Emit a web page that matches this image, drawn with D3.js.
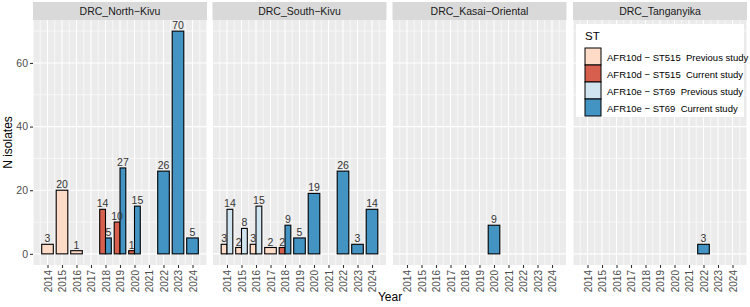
<!DOCTYPE html>
<html lang="en">
<head>
    <meta charset="UTF-8">
    <title>N isolates by year</title>
    <script src="https://cdn.jsdelivr.net/npm/d3@7"></script>
    <style>
        body { margin: 0; background: #fff; }
        text { font-family: "Liberation Sans", Arial, sans-serif; }
    </style>
</head>
<body>
<script>
    // data
    var years = [2014, 2015, 2016, 2017, 2018, 2019, 2020, 2021, 2022, 2023, 2024];
    var regions = ["DRC_North\u2212Kivu", "DRC_South\u2212Kivu", "DRC_Kasai\u2212Oriental", "DRC_Tanganyika"];
    var stLabels = [
        "AFR10d \u2212 ST515  Previous study",
        "AFR10d \u2212 ST515  Current study",
        "AFR10e \u2212 ST69  Previous study",
        "AFR10e \u2212 ST69  Current study"
    ];
    var stColors = ["#FDDBC7", "#D6604D", "#D1E5F0", "#4393C3"];
    var yTicks = [0, 20, 40, 60];

    // one row per ST group, one value per year (0 = no bar)
    var northKivu = [
        [3, 20, 1, 0, 0, 0, 0, 0, 0, 0, 0],
        [0, 0, 0, 0, 14, 10, 1, 0, 0, 0, 0],
        [0, 0, 0, 0, 0, 0, 0, 0, 0, 0, 0],
        [0, 0, 0, 0, 5, 27, 15, 0, 26, 70, 5]
    ];
    var southKivu = [
        [3, 2, 3, 2, 0, 0, 0, 0, 0, 0, 0],
        [0, 0, 0, 0, 2, 0, 0, 0, 0, 0, 0],
        [14, 8, 15, 0, 0, 0, 0, 0, 0, 0, 0],
        [0, 0, 0, 0, 9, 5, 19, 0, 26, 3, 14]
    ];
    var kasaiOriental = [
        [0, 0, 0, 0, 0, 0, 0, 0, 0, 0, 0],
        [0, 0, 0, 0, 0, 0, 0, 0, 0, 0, 0],
        [0, 0, 0, 0, 0, 0, 0, 0, 0, 0, 0],
        [0, 0, 0, 0, 0, 0, 9, 0, 0, 0, 0]
    ];
    var tanganyika = [
        [0, 0, 0, 0, 0, 0, 0, 0, 0, 0, 0],
        [0, 0, 0, 0, 0, 0, 0, 0, 0, 0, 0],
        [0, 0, 0, 0, 0, 0, 0, 0, 0, 0, 0],
        [0, 0, 0, 0, 0, 0, 0, 0, 3, 0, 0]
    ];
    var regionValues = [northKivu, southKivu, kasaiOriental, tanganyika];

    // canvas
    var width = 750;
    var height = 307;
    var svg = d3.select("body").append("svg")
        .attr("width", width)
        .attr("height", height);

    var panelLeft = [33, 212.5, 392.5, 573];
    var panelW = 174;
    var stripTop = 2, stripH = 18;
    var panelTop = 20, panelBottom = 265;

    var y = d3.scaleLinear().domain([-3.5, 73.5]).range([panelBottom, panelTop]);

    // turn the matrix into dodged bars
    function makeBars(values) {
        var bars = [];
        years.forEach(function (yr, i) {
            var present = [];
            values.forEach(function (row, g) {
                if (row[i] > 0) present.push(g);
            });
            var w = 0.8 / present.length;
            present.forEach(function (g, k) {
                bars.push({year: yr, group: g, n: values[g][i],
                    x0: yr - 0.4 + k * w, x1: yr - 0.4 + (k + 1) * w});
            });
        });
        return bars;
    }

    regions.forEach(function (name, p) {
        var x = d3.scaleLinear().domain([2013, 2025]).range([panelLeft[p], panelLeft[p] + panelW]);
        var g = svg.append("g");

        // strip
        g.append("rect")
            .attr("x", panelLeft[p]).attr("y", stripTop)
            .attr("width", panelW).attr("height", stripH)
            .attr("fill", "#D9D9D9");
        g.append("text")
            .attr("x", panelLeft[p] + panelW / 2).attr("y", stripTop + stripH / 2 + 4)
            .attr("text-anchor", "middle")
            .attr("font-size", 10.5)
            .attr("fill", "#1A1A1A")
            .text(name);

        // background + grid
        g.append("rect")
            .attr("x", panelLeft[p]).attr("y", panelTop)
            .attr("width", panelW).attr("height", panelBottom - panelTop)
            .attr("fill", "#EBEBEB");

        var minorX = d3.range(2013.5, 2025, 1);
        g.selectAll(".mx").data(minorX).enter().append("line")
            .attr("x1", function (d) { return x(d); }).attr("x2", function (d) { return x(d); })
            .attr("y1", panelTop).attr("y2", panelBottom)
            .attr("stroke", "#fff").attr("stroke-width", 0.6);
        g.selectAll(".my").data([10, 30, 50, 70]).enter().append("line")
            .attr("x1", panelLeft[p]).attr("x2", panelLeft[p] + panelW)
            .attr("y1", function (d) { return y(d); }).attr("y2", function (d) { return y(d); })
            .attr("stroke", "#fff").attr("stroke-width", 0.6);
        g.selectAll(".gx").data(d3.range(2013, 2026)).enter().append("line")
            .attr("x1", function (d) { return x(d); }).attr("x2", function (d) { return x(d); })
            .attr("y1", panelTop).attr("y2", panelBottom)
            .attr("stroke", "#fff").attr("stroke-width", 1.1);
        g.selectAll(".gy").data(yTicks).enter().append("line")
            .attr("x1", panelLeft[p]).attr("x2", panelLeft[p] + panelW)
            .attr("y1", function (d) { return y(d); }).attr("y2", function (d) { return y(d); })
            .attr("stroke", "#fff").attr("stroke-width", 1.1);

        // bars
        var bars = makeBars(regionValues[p]);
        g.selectAll(".bar").data(bars).enter().append("rect")
            .attr("x", function (d) { return x(d.x0); })
            .attr("width", function (d) { return x(d.x1) - x(d.x0); })
            .attr("y", function (d) { return y(d.n); })
            .attr("height", function (d) { return y(0) - y(d.n); })
            .attr("fill", function (d) { return stColors[d.group]; })
            .attr("stroke", "#000").attr("stroke-width", 1.1);
        g.selectAll(".lab").data(bars).enter().append("text")
            .attr("x", function (d) { return x((d.x0 + d.x1) / 2); })
            .attr("y", function (d) { return y(d.n) - 2; })
            .attr("text-anchor", "middle")
            .attr("font-size", 10.5)
            .attr("fill", "#333")
            .text(function (d) { return d.n; });

        // x axis
        var xAxis = d3.axisBottom(x).tickValues(years).tickSize(3).tickPadding(2)
            .tickFormat(d3.format("d"));
        var ax = g.append("g").attr("transform", "translate(0," + panelBottom + ")").call(xAxis);
        ax.select(".domain").remove();
        ax.selectAll(".tick line").attr("stroke", "#333").attr("stroke-width", 1.1);
        ax.selectAll(".tick text")
            .attr("font-size", 10)
            .attr("font-family", "Liberation Sans, Arial, sans-serif")
            .attr("fill", "#4D4D4D")
            .attr("transform", "rotate(-90)")
            .attr("text-anchor", "end")
            .attr("x", -5).attr("y", 0).attr("dy", "0.35em");

        // y axis only on first panel
        if (p === 0) {
            var yAxis = d3.axisLeft(y).tickValues(yTicks).tickSize(3).tickPadding(2);
            var ay = g.append("g").attr("transform", "translate(" + panelLeft[p] + ",0)").call(yAxis);
            ay.select(".domain").remove();
            ay.selectAll(".tick line").attr("stroke", "#333").attr("stroke-width", 1.1);
            ay.selectAll(".tick text")
                .attr("font-size", 10.5)
                .attr("font-family", "Liberation Sans, Arial, sans-serif")
                .attr("fill", "#4D4D4D");
        }
    });

    // axis titles
    svg.append("text")
        .attr("x", (panelLeft[0] + panelLeft[3] + panelW) / 2).attr("y", 301)
        .attr("text-anchor", "middle")
        .attr("font-size", 12)
        .attr("fill", "#000")
        .text("Year");
    svg.append("text")
        .attr("transform", "translate(12," + y(35) + ") rotate(-90)")
        .attr("text-anchor", "middle")
        .attr("font-size", 12)
        .attr("fill", "#000")
        .text("N isolates");

    // legend inside the last panel
    var legend = svg.append("g").attr("transform", "translate(576,24)");
    legend.append("rect")
        .attr("width", 168).attr("height", 93)
        .attr("fill", "#fff");
    legend.append("text")
        .attr("x", 9).attr("y", 16)
        .attr("font-size", 11.5)
        .attr("fill", "#000")
        .text("ST");
    var items = legend.selectAll(".item").data(stLabels).enter().append("g")
        .attr("transform", function (d, i) { return "translate(9," + (24 + i * 17) + ")"; });
    items.append("rect")
        .attr("width", 16).attr("height", 17)
        .attr("fill", function (d, i) { return stColors[i]; })
        .attr("stroke", "#000").attr("stroke-width", 1);
    items.append("text")
        .attr("x", 22).attr("y", 12.5)
        .attr("font-size", 9.5)
        .attr("fill", "#000")
        .style("white-space", "pre")
        .text(function (d) { return d; });
</script>
</body>
</html>
